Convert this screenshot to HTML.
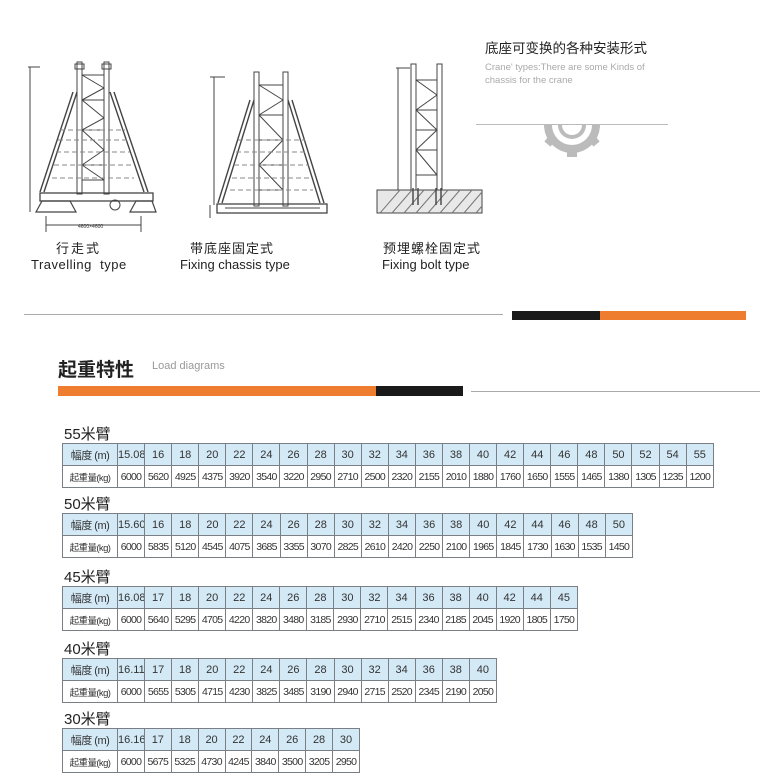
<!DOCTYPE html>
<html><head><meta charset="utf-8">
<style>
body{margin:0;background:#fff;}
#w{position:relative;width:760px;height:782px;overflow:hidden;font-family:"Liberation Sans","Noto Sans CJK SC",sans-serif;}
.a{position:absolute;white-space:nowrap;}
table{position:absolute;border-collapse:collapse;table-layout:fixed;left:62px;}
td{border:1px solid #7a7f85;height:21px;padding:0;text-align:center;font-size:10.5px;color:#333;overflow:hidden;white-space:nowrap;}
tr.h td{background:#d4e9f6;font-size:11px;}
tr.l td{font-size:10.5px;letter-spacing:-0.7px;}
td.f{width:54px;font-size:9.5px;letter-spacing:-0.5px;}
tr.l td.f{font-size:9.5px;letter-spacing:-0.6px;}
.t{position:absolute;left:64px;font-size:15px;color:#222;}
</style></head><body><div id="w">
<svg class="a" style="left:0;top:0" width="500" height="240" viewBox="0 0 500 240" fill="none" stroke="#444" stroke-width="1">
 <!-- crane 1 -->
 <rect x="77" y="62" width="5" height="132"/><rect x="104" y="62" width="5" height="132"/>
 <rect x="75" y="64" width="9" height="5"/><rect x="102" y="64" width="9" height="5"/>
 <path d="M82 75 L104 88 M82 100 L104 88 M82 100 L104 118 M82 130 L104 118 M82 130 L104 150 M82 165 L104 150 M82 165 L104 180"/>
 <path d="M82 75 H104 M82 100 H104 M82 130 H104 M82 165 H104 M82 180 H104"/>
 <path d="M77 92 L44 192 M73 92 L40 192 M110 92 L144 192 M114 92 L148 192" stroke-width="1.4"/>
 <path d="M60 130 H125 M58 140 H128 M56 152 H130 M54 165 H132 M52 178 H134" stroke-dasharray="5 3" stroke="#888"/>
 <rect x="40" y="193" width="113" height="8" stroke-width="1.3"/>
 <path d="M36 212 L42 201 H70 L76 212 Z M130 212 L136 201 H152 L156 212 Z" stroke-width="1.2"/>
 <circle cx="115" cy="205" r="5"/>
 <path d="M30 67 V212 M28 67 H40 M46 216 V232 M141 216 V232 M46 225 H141"/>
 <text x="78" y="228" font-size="5" fill="#333" stroke="none">4600×4600</text>
 <!-- crane 2 -->
 <rect x="254" y="72" width="5" height="134"/><rect x="283" y="72" width="5" height="134"/>
 <path d="M259 85 L283 100 M259 115 L283 100 M259 115 L283 140 M259 165 L283 140 M259 165 L283 190"/>
 <path d="M259 85 H283 M259 115 H283 M259 140 H283 M259 165 H283 M259 190 H283"/>
 <path d="M254 100 L222 203 M250 100 L218 203 M288 100 L320 203 M292 100 L324 203" stroke-width="1.4"/>
 <path d="M238 140 H305 M236 152 H307 M234 165 H309 M232 178 H311 M230 190 H313" stroke-dasharray="5 3" stroke="#888"/>
 <rect x="217" y="204" width="110" height="9" stroke-width="1.3"/>
 <path d="M225 208 H320"/>
 <path d="M214 77 V205 M210 77 H225 M210 205 V218"/>
 <!-- crane 3 -->
 <rect x="411" y="64" width="5" height="127"/><rect x="437" y="64" width="5" height="127"/>
 <path d="M416 80 L437 95 M416 110 L437 95 M416 110 L437 130 M416 150 L437 130 M416 150 L437 175"/>
 <path d="M416 80 H437 M416 110 H437 M416 130 H437 M416 150 H437 M416 175 H437"/>
 <path d="M398 68 V190 M396 68 H410"/>
 <rect x="377" y="190" width="105" height="23" fill="#e8e8e8"/>
 <path d="M380 213 L400 190 M392 213 L412 190 M404 213 L424 190 M416 213 L436 190 M428 213 L448 190 M440 213 L460 190 M452 213 L472 190 M464 213 L482 192 M476 213 L482 206" stroke="#777"/>
 <path d="M413 188 V205 M418 188 V205 M436 188 V205 M441 188 V205" stroke-width="1.4"/>
</svg>
<div class="a" style="left:56px;top:238px;font-size:13px;color:#222;letter-spacing:2px">行走式</div>
<div class="a" style="left:31px;top:257px;font-size:13px;color:#222;letter-spacing:0.5px">Travelling&nbsp; type</div>
<div class="a" style="left:190px;top:238px;font-size:13px;color:#222;letter-spacing:1px">带底座固定式</div>
<div class="a" style="left:180px;top:257px;font-size:13px;color:#222">Fixing chassis type</div>
<div class="a" style="left:383px;top:238px;font-size:13px;color:#222;letter-spacing:1px">预埋螺栓固定式</div>
<div class="a" style="left:382px;top:257px;font-size:13px;color:#222">Fixing bolt type</div>

<div class="a" style="left:485px;top:37px;font-size:13.5px;color:#222">底座可变换的各种安装形式</div>
<div class="a" style="left:485px;top:61px;font-size:9.5px;color:#aaa;line-height:13px">Crane' types:There are some Kinds of<br>chassis for the crane</div>
<div class="a" style="left:476px;top:124px;width:192px;height:1px;background:#bbb"></div>
<svg class="a" style="left:540px;top:125px" width="64" height="32" viewBox="0 0 64 32">
 <path d="M4 0 A28 28 0 0 0 60 0 L52 0 A20 20 0 0 1 12 0 Z" fill="#bbb"/>
 <path d="M18 0 A14 14 0 0 0 46 0 L42 0 A10 10 0 0 1 22 0 Z" fill="#bbb"/>
 <rect x="27" y="24" width="10" height="8" fill="#bbb"/>
 <rect x="6" y="12" width="8" height="8" fill="#bbb" transform="rotate(40 10 16)"/>
 <rect x="50" y="12" width="8" height="8" fill="#bbb" transform="rotate(-40 54 16)"/>
</svg>

<div class="a" style="left:24px;top:314px;width:479px;height:1px;background:#aaa"></div>
<div class="a" style="left:512px;top:311px;width:88px;height:9px;background:#1a1a1a"></div>
<div class="a" style="left:600px;top:311px;width:146px;height:9px;background:#ef7d2f"></div>

<div class="a" style="left:58px;top:355px;font-size:19px;color:#222;font-weight:bold">起重特性</div>
<div class="a" style="left:152px;top:360px;font-size:11px;color:#999">Load diagrams</div>
<div class="a" style="left:58px;top:386px;width:318px;height:10px;background:#ef7d2f"></div>
<div class="a" style="left:376px;top:386px;width:87px;height:10px;background:#1a1a1a"></div>
<div class="a" style="left:471px;top:391px;width:289px;height:1px;background:#aaa"></div>

<div class="t" style="top:423px">55米臂</div>
<table style="top:443px;width:652px"><tr class="h"><td class="f">幅度 (m)</td><td>15.08</td><td>16</td><td>18</td><td>20</td><td>22</td><td>24</td><td>26</td><td>28</td><td>30</td><td>32</td><td>34</td><td>36</td><td>38</td><td>40</td><td>42</td><td>44</td><td>46</td><td>48</td><td>50</td><td>52</td><td>54</td><td>55</td></tr>
<tr class="l"><td class="f">起重量(kg)</td><td>6000</td><td>5620</td><td>4925</td><td>4375</td><td>3920</td><td>3540</td><td>3220</td><td>2950</td><td>2710</td><td>2500</td><td>2320</td><td>2155</td><td>2010</td><td>1880</td><td>1760</td><td>1650</td><td>1555</td><td>1465</td><td>1380</td><td>1305</td><td>1235</td><td>1200</td></tr></table>

<div class="t" style="top:493px">50米臂</div>
<table style="top:513px;width:571px"><tr class="h"><td class="f">幅度 (m)</td><td>15.60</td><td>16</td><td>18</td><td>20</td><td>22</td><td>24</td><td>26</td><td>28</td><td>30</td><td>32</td><td>34</td><td>36</td><td>38</td><td>40</td><td>42</td><td>44</td><td>46</td><td>48</td><td>50</td></tr>
<tr class="l"><td class="f">起重量(kg)</td><td>6000</td><td>5835</td><td>5120</td><td>4545</td><td>4075</td><td>3685</td><td>3355</td><td>3070</td><td>2825</td><td>2610</td><td>2420</td><td>2250</td><td>2100</td><td>1965</td><td>1845</td><td>1730</td><td>1630</td><td>1535</td><td>1450</td></tr></table>

<div class="t" style="top:566px">45米臂</div>
<table style="top:586px;width:516px"><tr class="h"><td class="f">幅度 (m)</td><td>16.08</td><td>17</td><td>18</td><td>20</td><td>22</td><td>24</td><td>26</td><td>28</td><td>30</td><td>32</td><td>34</td><td>36</td><td>38</td><td>40</td><td>42</td><td>44</td><td>45</td></tr>
<tr class="l"><td class="f">起重量(kg)</td><td>6000</td><td>5640</td><td>5295</td><td>4705</td><td>4220</td><td>3820</td><td>3480</td><td>3185</td><td>2930</td><td>2710</td><td>2515</td><td>2340</td><td>2185</td><td>2045</td><td>1920</td><td>1805</td><td>1750</td></tr></table>

<div class="t" style="top:638px">40米臂</div>
<table style="top:658px;width:435px"><tr class="h"><td class="f">幅度 (m)</td><td>16.11</td><td>17</td><td>18</td><td>20</td><td>22</td><td>24</td><td>26</td><td>28</td><td>30</td><td>32</td><td>34</td><td>36</td><td>38</td><td>40</td></tr>
<tr class="l"><td class="f">起重量(kg)</td><td>6000</td><td>5655</td><td>5305</td><td>4715</td><td>4230</td><td>3825</td><td>3485</td><td>3190</td><td>2940</td><td>2715</td><td>2520</td><td>2345</td><td>2190</td><td>2050</td></tr></table>

<div class="t" style="top:708px">30米臂</div>
<table style="top:728px;width:298px"><tr class="h"><td class="f">幅度 (m)</td><td>16.16</td><td>17</td><td>18</td><td>20</td><td>22</td><td>24</td><td>26</td><td>28</td><td>30</td></tr>
<tr class="l"><td class="f">起重量(kg)</td><td>6000</td><td>5675</td><td>5325</td><td>4730</td><td>4245</td><td>3840</td><td>3500</td><td>3205</td><td>2950</td></tr></table>
</div></body></html>
